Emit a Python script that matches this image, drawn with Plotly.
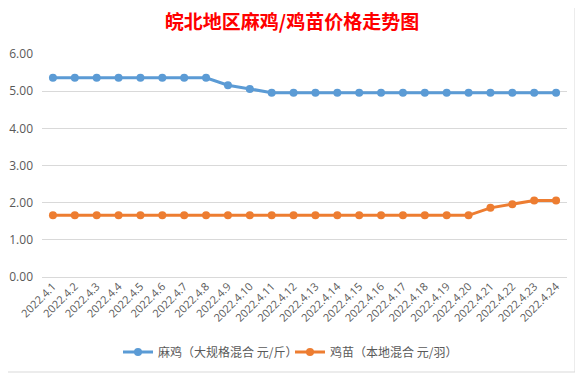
import plotly.graph_objects as go

dates = ["2022.4.%d" % d for d in range(1, 25)]
maji = [5.36, 5.36, 5.36, 5.36, 5.36, 5.36, 5.36, 5.36, 5.16, 5.06,
        4.96, 4.96, 4.96, 4.96, 4.96, 4.96, 4.96, 4.96, 4.96, 4.96,
        4.96, 4.96, 4.96, 4.96]
jimiao = [1.66, 1.66, 1.66, 1.66, 1.66, 1.66, 1.66, 1.66, 1.66, 1.66,
          1.66, 1.66, 1.66, 1.66, 1.66, 1.66, 1.66, 1.66, 1.66, 1.66,
          1.86, 1.96, 2.06, 2.06]
yticks = [0, 1, 2, 3, 4, 5, 6]

fig = go.Figure()
fig.add_trace(go.Scatter(x=dates, y=maji, mode="lines+markers",
                         name="麻鸡（大规格混合 元/斤）",
                         line=dict(color="#5B9BD5", width=3),
                         marker=dict(size=8, color="#5B9BD5")))
fig.add_trace(go.Scatter(x=dates, y=jimiao, mode="lines+markers",
                         name="鸡苗（本地混合 元/羽）",
                         line=dict(color="#ED7D31", width=3),
                         marker=dict(size=8, color="#ED7D31")))

# page offset (default body margin in the html page)
OFF = 8
W, H = 583, 375
# desired page pixel positions of plot area
pl, pr, pt, pb = 42, 567, 54, 277
L = pl - OFF
R = W - (pr - OFF)
T = pt - OFF
B = H - (pb - OFF)
pw, ph = W - L - R, H - T - B

def px(x):
    return (x - OFF - L) / pw

def py(y):
    return (H - B - (y - OFF)) / ph

fig.update_layout(
    width=W, height=H,
    margin=dict(l=L, r=R, t=T, b=B, autoexpand=False),
    paper_bgcolor="white", plot_bgcolor="white",
    font=dict(family="Noto Sans CJK SC, sans-serif", color="#595959"),
    title=dict(text="<b>皖北地区麻鸡/鸡苗价格走势图</b>",
               font=dict(size=19, color="#FF0000", family="Noto Sans CJK SC"),
               x=px(292), xanchor="center", xref="paper",
               y=1 - (22 - OFF) / H, yanchor="middle"),
    xaxis=dict(type="category", tickangle=-45, showgrid=False,
               tickfont=dict(size=11, family="Open Sans", color="#595959"),
               showline=False, ticks="", range=[-0.5, 23.5], automargin=False),
    yaxis=dict(range=[0, 6], tickvals=yticks,
               ticktext=["%.2f" % v for v in yticks],
               showgrid=True, gridcolor="#D9D9D9", gridwidth=1,
               zeroline=True, zerolinecolor="#D9D9D9", zerolinewidth=1,
               tickfont=dict(size=12, family="Open Sans", color="#595959"),
               ticks="", ticklabelstandoff=8, automargin=False),
    legend=dict(orientation="h", x=px(290), xanchor="center",
                y=py(352), yanchor="middle",
                font=dict(size=12, color="#595959"),
                itemwidth=30, entrywidth=127, entrywidthmode="pixels"),
    shapes=[dict(type="rect", xref="paper", yref="paper",
                 x0=px(3), x1=px(575), y0=py(372), y1=py(2),
                 line=dict(color="#D9D9D9", width=1), layer="below")],
)

fig.write_html("out.html")
